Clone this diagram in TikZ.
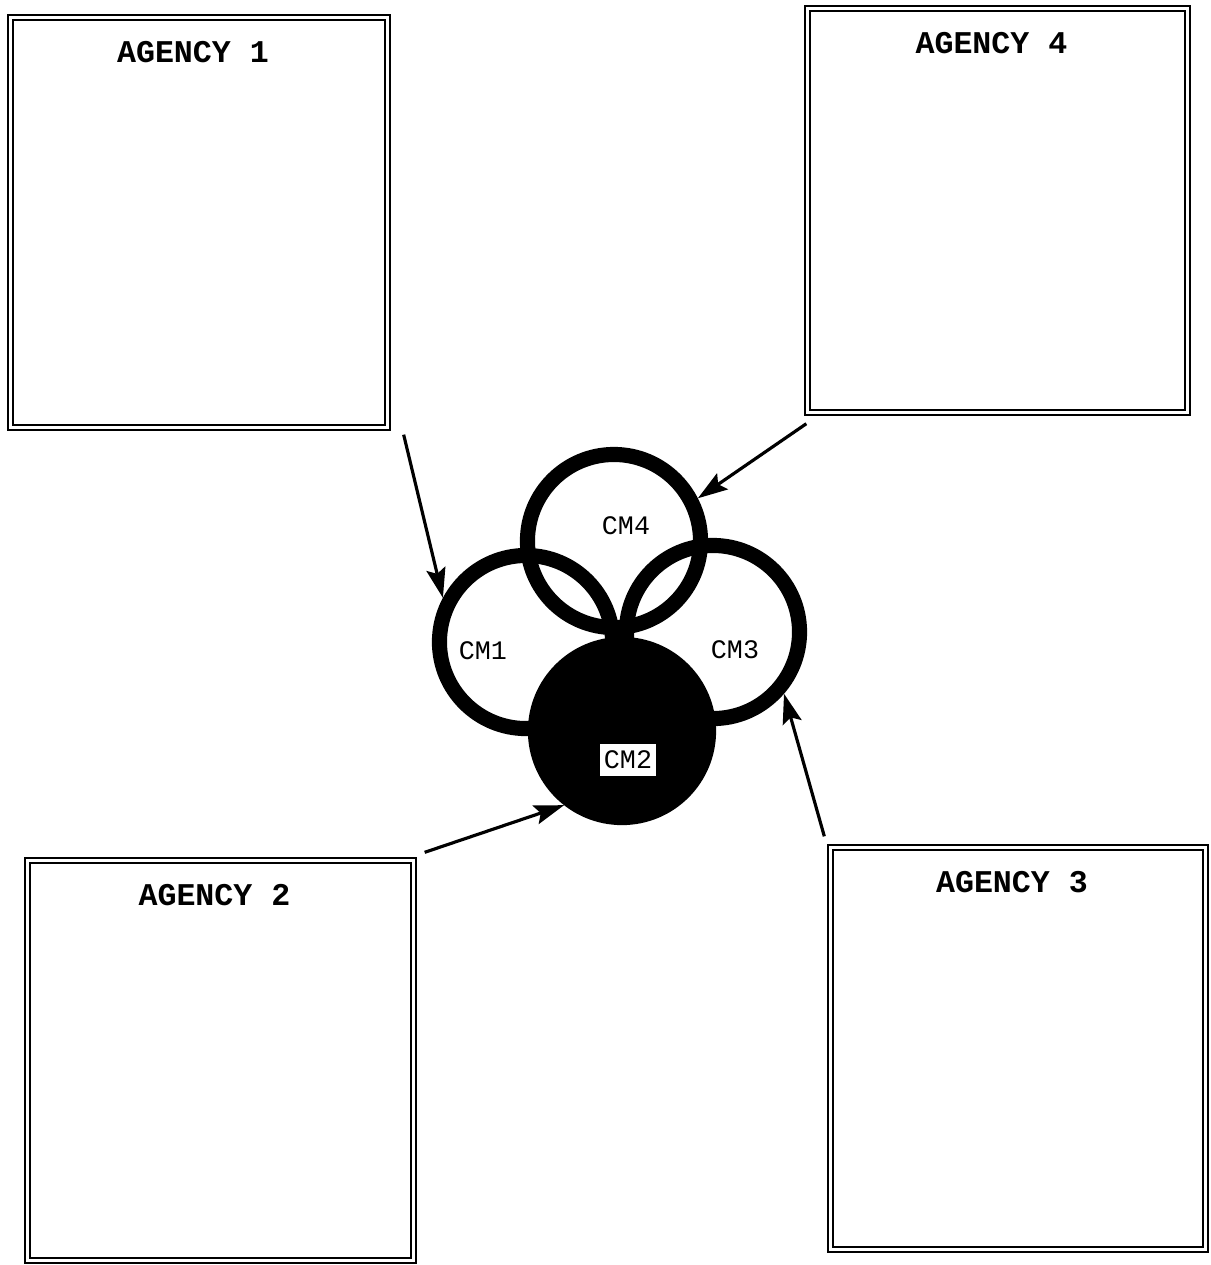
\documentclass[tikz,border=0pt]{standalone}
\usepackage{fontspec}
\newfontfamily\agencyfont{Liberation Mono}
\usetikzlibrary{arrows.meta,positioning}

\begin{document}
\begin{tikzpicture}[x=0.01cm, y=-0.01cm,
  agency/.style={draw, double, line width=0.6pt, double distance=0.9pt, inner sep=0pt},
  agtitle/.style={anchor=center, xshift=-0.06cm, yshift=-0.36cm, font=\agencyfont\bfseries\fontsize{9}{10}\selectfont},
  ring/.style={circle, draw, line width=4.3pt, minimum size=1.73cm, inner sep=0pt},
  cmtext/.style={font=\agencyfont\fontsize{7.6}{8}\selectfont, inner sep=1pt},
  link/.style={-{Stealth[length=8.5pt, width=5.5pt, inset=1.5pt]}, line width=0.9pt}]
  \useasboundingbox (0,0) rectangle (1211,1265);

  % agency boxes
  \node[agency, minimum width=3.77cm, minimum height=4.10cm, label={[agtitle]north:AGENCY 1}] (ag1) at (199,222.5) {};
  \node[agency, minimum width=3.80cm, minimum height=4.04cm, label={[agtitle]north:AGENCY 4}] (ag4) at (997.5,210.5) {};
  \node[agency, minimum width=3.86cm, minimum height=4.00cm, label={[agtitle]north:AGENCY 2}] (ag2) at (220.5,1060.5) {};
  \node[agency, minimum width=3.75cm, minimum height=4.02cm, label={[agtitle]north:AGENCY 3}] (ag3) at (1018,1048.5) {};

  % common memory rings
  \node[ring] (cm4) at (614,541) {};
  \node[ring] (cm1) at (526,642) {};
  \node[ring] (cm3) at (713,632) {};
  \node[ring, fill=black] (cm2) at (622,731) {};
  \node[cmtext] (cm1text) at ([xshift=-0.43cm, yshift=-0.09cm]cm1.center) {CM1};
  \node[cmtext] (cm4text) at ([xshift=0.12cm, yshift=0.15cm]cm4.center) {CM4};
  \node[cmtext] (cm3text) at ([xshift=0.22cm, yshift=-0.18cm]cm3.center) {CM3};
  \node[cmtext, fill=white, inner xsep=1.2pt, inner ysep=2pt] (cm2text) at ([xshift=0.06cm, yshift=-0.29cm]cm2.center) {CM2};

  \draw[link] ([xshift=0.15cm, yshift=-0.06cm]ag1.south east) -- (cm1.152);
  \draw[link] ([yshift=-0.10cm]ag4.south west) -- (cm4.27);
  \draw[link] ([xshift=0.10cm, yshift=0.07cm]ag2.north east) -- (cm2.232);
  \draw[link] ([xshift=-0.05cm, yshift=0.10cm]ag3.north west) -- (cm3.319);
\end{tikzpicture}
\end{document}
